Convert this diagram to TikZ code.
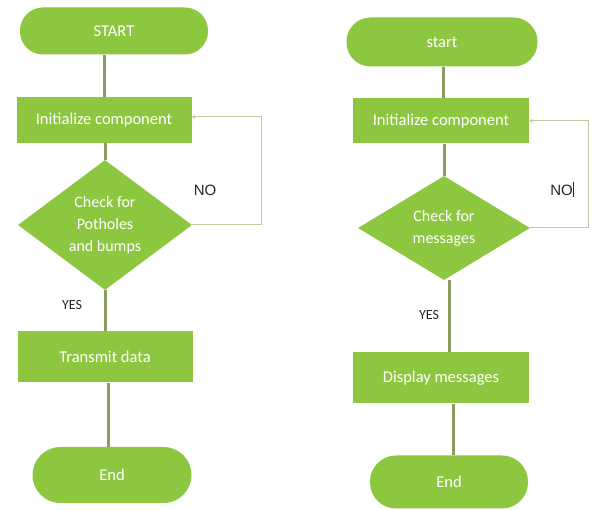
\documentclass[tikz,border=0pt]{standalone}
\usepackage{fontspec}
\setmainfont{Carlito}
\newfontfamily\labfont{Liberation Sans}
\usetikzlibrary{shapes.geometric,arrows.meta}
\definecolor{boxgreen}{HTML}{8DC63F}
\definecolor{linegreen}{HTML}{8A9C62}
\definecolor{loopgreen}{HTML}{C3C89A}
\tikzset{
  term/.style={draw=none,fill=boxgreen,text=white,font=\fontsize{16.5}{19}\selectfont,rounded corners=#1,inner sep=0pt},
  procbox/.style={draw=none,fill=boxgreen,text=white,font=\fontsize{16.5}{19}\selectfont,inner sep=0pt},
  decbox/.style={diamond,draw=none,fill=boxgreen,text=white,font=\fontsize{16}{22}\selectfont,inner sep=0pt,align=center},
  mainline/.style={draw=linegreen,line width=3pt},
  loopline/.style={draw=loopgreen,line width=1pt,-{Stealth[length=4pt,width=4pt]}},
  nolab/.style={font=\labfont\fontsize{15}{17}\selectfont,text=black!85},
  yeslab/.style={font=\fontsize{14}{16}\selectfont,text=black!85}
}
\begin{document}
\begin{tikzpicture}[x=1pt,y=-1pt]
\useasboundingbox (0,0) rectangle (598,510);
\fill[white] (0,0) rectangle (598,510);
% left flowchart
\node[term=23pt,minimum width=188pt,minimum height=47pt] (s1) at (114,31) {START};
\node[procbox,minimum width=175pt,minimum height=46pt] (i1) at (104,120) {Initialize component};
\node[decbox,minimum width=174pt,minimum height=104pt] (c1) at (105,225) {Check for\\Potholes\\and bumps};
\node[procbox,minimum width=175pt,minimum height=51pt] (t1) at (105,357) {Transmit data};
\node[term=28pt,minimum width=159pt,minimum height=56pt] (e1) at (112,475) {End};
\coordinate (l1) at (261,225);
\node[nolab] (no1) at (205,190) {NO};
\node[yeslab] (yes1) at (72,305) {YES};
\draw[mainline] (i1.north |- s1.south) -- (i1.north);
\draw[mainline] (c1.north |- i1.south) -- (c1.north);
\draw[mainline] (c1.south) -- (t1.north);
\draw[mainline] (108,0 |- t1.south) -- (108,0 |- e1.north);
\draw[loopline] (c1.east) -- (l1) |- ([yshift=3pt]i1.east);
% right flowchart
\node[term=24pt,minimum width=191pt,minimum height=49pt] (s2) at (442,42) {start};
\node[procbox,minimum width=176pt,minimum height=45pt] (i2) at (441,121) {Initialize component};
\node[decbox,minimum width=172pt,minimum height=104pt] (c2) at (444,228) {Check for\\messages};
\node[procbox,minimum width=176pt,minimum height=51pt] (d2) at (441,378) {Display messages};
\node[term=26pt,minimum width=158pt,minimum height=53pt] (e2) at (449,482) {End};
\coordinate (l2) at (588,228);
\node[nolab] (no2) at (562,190) {NO\rule[-2pt]{0.7pt}{15pt}};
\node[yeslab] (yes2) at (429,315) {YES};
\draw[mainline] (443,0 |- s2.south) -- (443,0 |- i2.north);
\draw[mainline] (c2.north |- i2.south) -- (c2.north);
\draw[mainline] (449,0 |- c2.south) -- (449,0 |- d2.north);
\draw[mainline] (453,0 |- d2.south) -- (453,0 |- e2.north);
\draw[loopline] (c2.east) -- (l2) |- (i2.east);
\end{tikzpicture}
\end{document}
